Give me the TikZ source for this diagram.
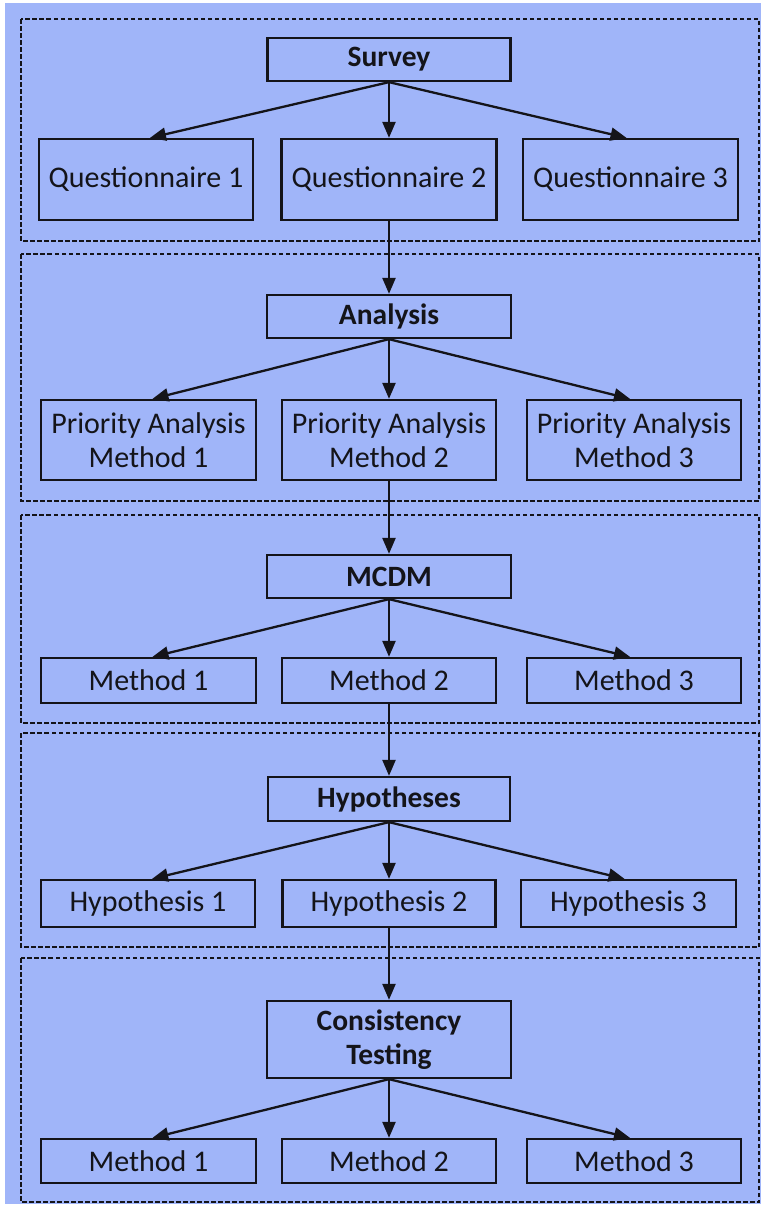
\documentclass[tikz,border=0pt]{standalone}
\usepackage{fontspec}
\setmainfont{Carlito}
\usetikzlibrary{arrows.meta,positioning}
\definecolor{bgblue}{RGB}{160,181,249}
\definecolor{inkc}{RGB}{20,20,25}
\tikzset{
  box/.style={draw=inkc, line width=2.3pt, rectangle, inner sep=0pt, align=center,
    text=inkc, font=\fontsize{30}{34}\selectfont},
  headbox/.style={box, font=\fontsize{29.5}{34}\selectfont\bfseries},
  grp/.style={draw=inkc, line width=1.5pt, dash pattern=on 4.5pt off 2.5pt},
  conn/.style={draw=inkc, line width=2.3pt, -{Triangle[length=16pt,width=13pt]}},
}
\begin{document}
\begin{tikzpicture}[x=1pt,y=-1pt]
\useasboundingbox (0,0) rectangle (761,1205);
\fill[white] (0,0) rectangle (761,1205);
\fill[bgblue] (5,3) rectangle (761,1204);
% groups
\draw[grp] (21,19) rectangle (759,241);
\draw[grp] (21,254) rectangle (759,501);
\draw[grp] (21,515) rectangle (759,723);
\draw[grp] (21,733) rectangle (759,947);
\draw[grp] (21,958) rectangle (759,1202);
% group 1
\node[headbox, minimum width=243pt, minimum height=43pt] (survey) at (389,59.5) {Survey};
\node[box, minimum width=214pt, minimum height=81pt] (q1) at (146,179.5) {Questionnaire 1};
\node[box, minimum width=215pt, minimum height=81pt] (q2) at (389,179.5) {Questionnaire 2};
\node[box, minimum width=215pt, minimum height=81pt] (q3) at (630.5,179.5) {Questionnaire 3};
% group 2
\node[headbox, minimum width=244pt, minimum height=43pt] (analysis) at (389,316.5) {Analysis};
\node[box, minimum width=215pt, minimum height=80pt] (pa1) at (148.5,440) {Priority Analysis\\Method 1};
\node[box, minimum width=214pt, minimum height=80pt] (pa2) at (389,440) {Priority Analysis\\Method 2};
\node[box, minimum width=214pt, minimum height=80pt] (pa3) at (634,440) {Priority Analysis\\Method 3};
% group 3
\node[headbox, minimum width=244pt, minimum height=43pt] (mcdm) at (389,576.5) {MCDM};
\node[box, minimum width=215pt, minimum height=45pt] (m1) at (148.5,680.5) {Method 1};
\node[box, minimum width=214pt, minimum height=45pt] (m2) at (389,680.5) {Method 2};
\node[box, minimum width=214pt, minimum height=45pt] (m3) at (634,680.5) {Method 3};
% group 4
\node[headbox, minimum width=242pt, minimum height=44pt] (hyp) at (389,799) {Hypotheses};
\node[box, minimum width=214pt, minimum height=47pt] (h1) at (148,903.5) {Hypothesis 1};
\node[box, minimum width=213pt, minimum height=47pt] (h2) at (389,903.5) {Hypothesis 2};
\node[box, minimum width=215pt, minimum height=47pt] (h3) at (628.5,903.5) {Hypothesis 3};
% group 5
\node[headbox, minimum width=244pt, minimum height=77pt] (cons) at (389,1039.5) {Consistency\\Testing};
\node[box, minimum width=215pt, minimum height=44pt] (c1) at (148.5,1161) {Method 1};
\node[box, minimum width=214pt, minimum height=44pt] (c2) at (389,1161) {Method 2};
\node[box, minimum width=214pt, minimum height=44pt] (c3) at (634,1161) {Method 3};
% connectors
\foreach \p/\a/\b/\c in {survey/q1/q2/q3, analysis/pa1/pa2/pa3, mcdm/m1/m2/m3, hyp/h1/h2/h3, cons/c1/c2/c3}{
  \draw[conn] (\p.south) -- ([xshift=4pt]\a.north);
  \draw[conn] (\p.south) -- (\b.north);
  \draw[conn] (\p.south) -- ([xshift=-4pt]\c.north);
}
\draw[conn] (q2.south) -- (analysis.north);
\draw[conn] (pa2.south) -- (mcdm.north);
\draw[conn] (m2.south) -- (hyp.north);
\draw[conn] (h2.south) -- (cons.north);
\end{tikzpicture}
\end{document}
